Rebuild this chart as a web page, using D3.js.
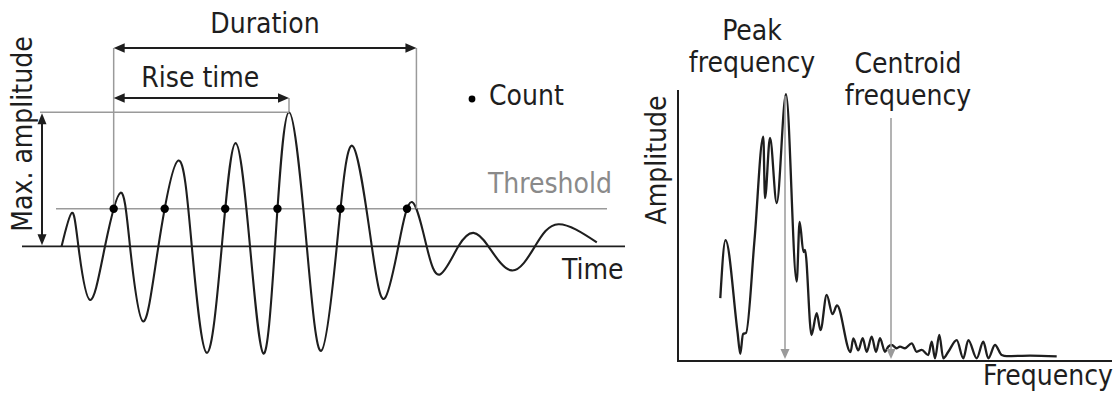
<!DOCTYPE html>
<html>
<head>
<meta charset="utf-8">
<script src="https://cdn.jsdelivr.net/npm/d3@7"></script>
<style>
  html, body { margin: 0; padding: 0; background: #fff; }
  svg { display: block; }
  text {
    font-family: "DejaVu Sans Condensed", "DejaVu Sans", sans-serif;
    font-stretch: condensed;
    font-size: 28px;
    fill: #1e1e1e;
  }
</style>
</head>
<body>
<svg id="chart" width="1120" height="397"></svg>
<script>
// ---- Burst waveform: time (µs) and amplitude (mV) at extrema and zero crossings
const burstTime = [19.8, 24.9, 28.2, 34.0, 41.5, 49.3, 54.0, 60.5, 68.2, 78.2, 84.9, 92.4,
  99.9, 106.8, 114.0, 120.7, 126.5, 133.5, 142.4, 149.6, 157.4, 165.2, 174.9, 181.3,
  188.2, 195.0, 202.3, 209.0, 218.2, 225.7, 233.2, 244.9, 256.5, 268.2, 287.4];
const burstAmp = [0, 25, 0, -40, 0, 40, 0, -56, 0, 64, 0, -79.5,
  0, 77, 0, -80, 0, 100, 0, -78, 0, 75, 0, -39,
  0, 33, 0, -21, 0, 10, 0, -18, 0, 16.5, 3];
const thresholdMv = 28;

// ---- Spectrum of the burst: frequency (kHz) and amplitude (a.u.)
const specFreq = [84.6, 95, 119, 124.6, 130, 136, 153, 170.6, 174, 184, 197.4, 216,
  237.4, 243.2, 251, 254, 267, 277.4, 285, 297.4, 309, 318, 345, 350.6,
  360.6, 369.4, 377.4, 387.4, 396, 404, 414, 420.6, 427.4, 437.4, 444, 454,
  467.4, 477.4, 487.4, 500.6, 507.4, 514, 522.6, 530.6, 540.6, 557.4, 570.6, 580.6,
  597.4, 610.6, 620.6, 634, 647.4, 657.4, 704, 757.4];
const specAmp = [23.2, 44.6, 10.7, 2.6, 10.0, 10.3, 44.6, 82.8, 60.1, 82.3, 58.3, 98.5,
  29.3, 51.3, 40.2, 41.0, 9.6, 17.7, 11.4, 24.4, 17.3, 20.5, 3.3, 8.3,
  3.9, 8.4, 3.4, 9.0, 3.4, 8.4, 3.4, 5.3, 5.9, 4.7, 5.3, 4.7,
  6.5, 3.4, 4.1, 2.2, 7.1, 1.0, 9.6, 1.0, 3.4, 7.7, 1.0, 7.7,
  1.0, 7.1, 1.0, 5.9, 2.2, 1.8, 2.0, 1.7];
const centroidKHz = 426;

// ---- Label text
const waveLabels = ["Duration", "Rise time", "Count", "Threshold", "Time", "Max. amplitude"];
const specLabels = [["Peak", "frequency"], ["Centroid", "frequency"], "Amplitude", "Frequency"];

const svg = d3.select("#chart");
const INK = "#1e1e1e";
const GREY = "#9a9a9a";
const GREY_TEXT = "#8a8a8a";

// Straight arrow with filled triangular heads at the end (and optionally the start)
function arrow(g, x1, y1, x2, y2, opt) {
  const o = Object.assign({ color: INK, width: 2, len: 11, half: 4.8, both: false }, opt);
  const ang = Math.atan2(y2 - y1, x2 - x1);
  const head = (x, y, a) => {
    const bx = x - o.len * Math.cos(a), by = y - o.len * Math.sin(a);
    const px = -Math.sin(a) * o.half, py = Math.cos(a) * o.half;
    g.append("path")
      .attr("d", `M${x},${y}L${bx + px},${by + py}L${bx - px},${by - py}Z`)
      .attr("fill", o.color);
  };
  const sx = o.both ? x1 + (o.len - 2) * Math.cos(ang) : x1;
  const sy = o.both ? y1 + (o.len - 2) * Math.sin(ang) : y1;
  g.append("line")
    .attr("x1", sx).attr("y1", sy)
    .attr("x2", x2 - (o.len - 2) * Math.cos(ang)).attr("y2", y2 - (o.len - 2) * Math.sin(ang))
    .attr("stroke", o.color).attr("stroke-width", o.width);
  head(x2, y2, ang);
  if (o.both) head(x1, y1, ang + Math.PI);
}

// ================= Left: waveform with AE parameters =================
const wave = svg.append("g");
const x = d3.scaleLinear().domain([0, 301.5]).range([22, 625]);
const y = d3.scaleLinear().domain([-100, 100]).range([380.3, 112.3]);
const burst = burstTime.map((t, i) => ({ t, a: burstAmp[i] }));

// time axis
wave.append("line")
  .attr("x1", x(0)).attr("x2", x(301.5))
  .attr("y1", y(0)).attr("y2", y(0))
  .attr("stroke", INK).attr("stroke-width", 1.8);

// threshold level
const thY = y(thresholdMv);
wave.append("line")
  .attr("x1", x(17)).attr("x2", x(292.5))
  .attr("y1", thY).attr("y2", thY)
  .attr("stroke", GREY).attr("stroke-width", 1.5);

// waveform
const wavePath = wave.append("path")
  .datum(burst)
  .attr("d", d3.line().x(d => x(d.t)).y(d => y(d.a)).curve(d3.curveNatural))
  .attr("fill", "none")
  .attr("stroke", INK).attr("stroke-width", 2.1);

// threshold crossings found along the drawn curve
const node = wavePath.node();
const total = node.getTotalLength();
let prev = node.getPointAtLength(0);
const rising = [], falling = [];
for (let s = 0.25; s <= total; s += 0.25) {
  const p = node.getPointAtLength(s);
  if ((prev.y - thY) * (p.y - thY) < 0) {
    const f = (thY - prev.y) / (p.y - prev.y);
    const cx = prev.x + f * (p.x - prev.x);
    (p.y < prev.y ? rising : falling).push(cx);
  }
  prev = p;
}

const peak = burst.reduce((m, d) => (d.a > m.a ? d : m), burst[0]);
const startX = rising[0];
const endX = falling[falling.length - 1];
const peakX = x(peak.t), peakY = y(peak.a);
const durY = 48, riseY = 98;

// guide lines
wave.append("line").attr("x1", startX).attr("x2", startX).attr("y1", durY).attr("y2", thY)
  .attr("stroke", GREY).attr("stroke-width", 1.5);
wave.append("line").attr("x1", endX).attr("x2", endX).attr("y1", durY).attr("y2", thY)
  .attr("stroke", GREY).attr("stroke-width", 1.5);
wave.append("line").attr("x1", peakX).attr("x2", peakX).attr("y1", riseY).attr("y2", peakY)
  .attr("stroke", GREY).attr("stroke-width", 1.5);
wave.append("line").attr("x1", 40).attr("x2", peakX).attr("y1", peakY).attr("y2", peakY)
  .attr("stroke", GREY).attr("stroke-width", 1.5);

// count markers
wave.selectAll("circle.count").data(rising).join("circle")
  .attr("class", "count")
  .attr("cx", d => d).attr("cy", thY).attr("r", 4.2)
  .attr("fill", "#000");

// dimension arrows
arrow(wave, startX, durY, endX, durY, { both: true });
arrow(wave, startX, riseY, peakX, riseY, { both: true });
arrow(wave, 42, peakY + 1, 42, y(0) - 1, { both: true, len: 11, half: 4.5 });

// labels
wave.append("text").attr("x", (startX + endX) / 2).attr("y", 33)
  .attr("text-anchor", "middle").text(waveLabels[0]);
wave.append("text").attr("x", (startX + peakX) / 2 - 1).attr("y", 87)
  .attr("text-anchor", "middle").text(waveLabels[1]);
wave.append("circle").attr("cx", 472).attr("cy", 99).attr("r", 3.4).attr("fill", "#000");
wave.append("text").attr("x", 489).attr("y", 105).text(waveLabels[2]);
wave.append("text").attr("x", 612).attr("y", 193).attr("text-anchor", "end")
  .style("fill", GREY_TEXT).text(waveLabels[3]);
wave.append("text").attr("x", 562).attr("y", 279).text(waveLabels[4]);
wave.append("text").attr("transform", "translate(32,134) rotate(-90)")
  .attr("text-anchor", "middle").text(waveLabels[5]);

// ================= Right: frequency spectrum =================
const spec = svg.append("g");
const fx = d3.scaleLinear().domain([0, 868]).range([678, 1112]);
const fy = d3.scaleLinear().domain([0, 100]).range([361, 90]);
const spectrum = specFreq.map((f, i) => ({ f, a: specAmp[i] }));

spec.append("path")
  .datum(spectrum)
  .attr("d", d3.line().x(d => fx(d.f)).y(d => fy(d.a)).curve(d3.curveMonotoneX))
  .attr("fill", "none")
  .attr("stroke", INK).attr("stroke-width", 2.3).attr("stroke-linejoin", "round");

// axes
spec.append("line").attr("x1", fx(0)).attr("x2", fx(0)).attr("y1", fy(100)).attr("y2", fy(0) + 1)
  .attr("stroke", INK).attr("stroke-width", 2);
spec.append("line").attr("x1", fx(0) - 1).attr("x2", fx(868)).attr("y1", fy(0)).attr("y2", fy(0))
  .attr("stroke", INK).attr("stroke-width", 2);

// peak and centroid frequency markers
const specPeak = spectrum.reduce((m, d) => (d.a > m.a ? d : m), spectrum[0]);
arrow(spec, fx(specPeak.f) - 1, fy(specPeak.a) + 2, fx(specPeak.f) - 1, fy(0) - 2,
  { color: GREY, width: 1.5, len: 10, half: 4.5 });
arrow(spec, fx(centroidKHz), 118, fx(centroidKHz), fy(0) - 2,
  { color: GREY, width: 1.5, len: 10, half: 4.5 });

// labels
const peakLbl = spec.append("text").attr("text-anchor", "middle");
peakLbl.append("tspan").attr("x", 752).attr("y", 40).text(specLabels[0][0]);
peakLbl.append("tspan").attr("x", 752).attr("y", 72).text(specLabels[0][1]);
const cenLbl = spec.append("text").attr("text-anchor", "middle");
cenLbl.append("tspan").attr("x", 908).attr("y", 73).text(specLabels[1][0]);
cenLbl.append("tspan").attr("x", 908).attr("y", 105).text(specLabels[1][1]);
spec.append("text").attr("transform", "translate(666,160) rotate(-90)")
  .attr("text-anchor", "middle").text(specLabels[2]);
spec.append("text").attr("x", 1113).attr("y", 385).attr("text-anchor", "end").text(specLabels[3]);
</script>
</body>
</html>
